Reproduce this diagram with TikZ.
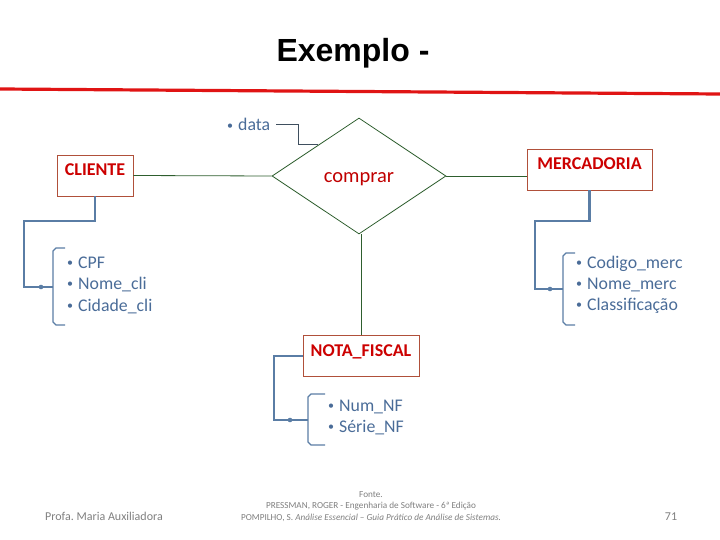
\documentclass[tikz,border=0pt]{standalone}
\usepackage{fontspec}
\setmainfont{Carlito}
\newfontfamily\titlefont{Liberation Sans}
\usetikzlibrary{shapes.geometric,calc}
\frenchspacing
\definecolor{entred}{HTML}{CC0000}
\definecolor{relred}{HTML}{C00000}
\definecolor{boxbrown}{HTML}{B0503A}
\definecolor{relgreen}{HTML}{2E5E2E}
\definecolor{attblue}{HTML}{4A6C98}
\definecolor{lineblue}{HTML}{5A7DA5}
\definecolor{dataline}{HTML}{3F4F5F}
\definecolor{titlered}{HTML}{E01414}
\definecolor{footgrey}{HTML}{7F7F7F}
\newcommand\attbul{{\fontsize{12}{12}\selectfont\raisebox{1.5pt}{•}}\hspace{5pt}}
\begin{document}
\begin{tikzpicture}[x=1pt,y=-1pt,
  entity/.style={draw=boxbrown, line width=0.8pt, text=entred,
    font=\bfseries\fontsize{18}{21}\selectfont,
    text height=16pt, text depth=15pt, inner ysep=5pt, inner xsep=0pt},
  relshape/.style={diamond, draw=relgreen, line width=0.8pt, inner sep=0pt,
    minimum width=174pt, minimum height=116pt, text=relred,
    text height=14pt, text depth=0pt,
    font=\fontsize{20.5}{24}\selectfont},
  conn/.style={draw=relgreen, line width=0.8pt},
  attr/.style={anchor=base west, inner sep=0pt, text=attblue,
    font=\fontsize{17.8}{21}\selectfont},
  bracket/.style={draw=lineblue, line width=2.2pt},
  bracelin/.style={draw=lineblue, line width=1.2pt},
  dline/.style={draw=dataline, line width=0.9pt},
  foot/.style={anchor=base, inner sep=0pt, text=footgrey, font=\fontsize{12}{14}\selectfont},
  src/.style={anchor=base, inner sep=0pt, text=footgrey, font=\fontsize{9.2}{11}\selectfont}
]
\useasboundingbox (0,0) rectangle (720,540);

% title and rule
\node[anchor=base, inner sep=0pt] (title) at (353,62) {\titlefont\bfseries\fontsize{32}{38}\selectfont Exemplo -};
\coordinate (rl1) at (0,89);
\coordinate (rl2) at (720,94);
\draw[titlered, line width=3.2pt] (rl1) -- (rl2);

% entities and relationship
\node[entity, minimum width=76pt] (cli) at (95,175.5) {CLIENTE};
\node[entity, minimum width=125pt] (merc) at (589.5,169.5) {MERCADORIA};
\node[entity, minimum width=116pt] (nf) at (361,356) {NOTA\_FISCAL};
\node[relshape] (rel) at (359,176) {comprar};

\draw[conn] (cli.east) -- (rel.west);
\draw[conn] (rel.east) -- (rel.east -| merc.west);
\draw[conn] (nf.north) -- (nf.north |- rel.south);

% relationship attribute
\node[attr] (data) at (227,131) {\attbul data};
\coordinate (de) at ($(rel.west)!0.534!(rel.north)$);
\draw[dline] ([xshift=6pt]data.east) -| ($(de)+(-20,0)$) -- (de);

% CLIENTE attributes
\draw[bracket] (cli.south) -- ++(0,25) -| (24,287) coordinate (cbk) -- (53,287) coordinate (cbr);
\fill[lineblue] (41,287) circle (2.3);
\draw[bracelin] (65,248) -- (56,248) -- (53,251) -- (53,284) -- (cbr) -- (53,290) -- (53,322) -- (56,325) -- (65,325);
\node[attr] (c1) at (67,268) {\attbul CPF};
\node[attr] (c2) at (67,289) {\attbul Nome\_cli};
\node[attr] (c3) at (67,311) {\attbul Cidade\_cli};

% MERCADORIA attributes
\draw[bracket] (merc.south) -- ++(0,31) -| (535,289) -- (563,289) coordinate (mbr);
\fill[lineblue] (550,289) circle (2.3);
\draw[bracelin] (575,253) -- (566,253) -- (563,256) -- (563,286) -- (mbr) -- (563,292) -- (563,322) -- (566,325) -- (575,325);
\node[attr] (m1) at (576,268) {\attbul Codigo\_merc};
\node[attr] (m2) at (576,289) {\attbul Nome\_merc};
\node[attr] (m3) at (576,310) {\attbul Classificação};

% NOTA_FISCAL attributes
\draw[bracket] (nf.west) -| (274,420) -- (308,420) coordinate (nbr);
\fill[lineblue] (290,420) circle (2.3);
\draw[bracelin] (325,394) -- (311,394) -- (308,397) -- (308,417) -- (nbr) -- (308,423) -- (308,442) -- (311,445) -- (325,445);
\node[attr] (n1) at (328,411) {\attbul Num\_NF};
\node[attr] (n2) at (328,432) {\attbul Série\_NF};

% footer
\node[foot] (prof) at (104,520) {Profa. Maria Auxiliadora};
\node[foot] (pg) at (671,520) {71};
\node[src] (s1) at (371,497) {Fonte.};
\node[src] (s2) at (371,508.5) {PRESSMAN, ROGER - Engenharia de Software - 6ª Edição};
\node[src] (s3) at (371,520) {POMPILHO, S. \textit{Análise Essencial – Guia Prático de Análise de Sistemas.}};
\end{tikzpicture}
\end{document}
